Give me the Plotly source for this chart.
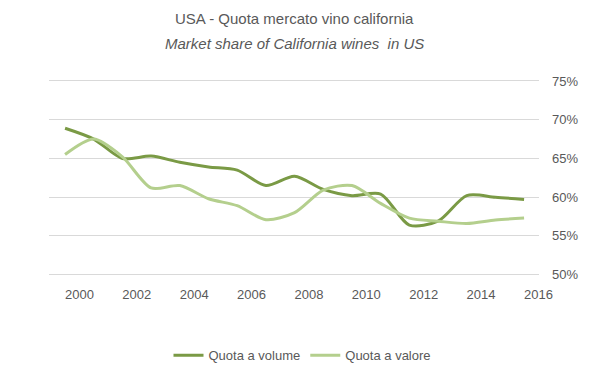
import plotly.graph_objects as go

# Data (mid-year positions, as in the reference)
years = [1999.5, 2000.5, 2001.5, 2002.5, 2003.5, 2004.5, 2005.5, 2006.5, 2007.5,
         2008.5, 2009.5, 2010.5, 2011.5, 2012.5, 2013.5, 2014.5, 2015.5]
quota_volume = [68.9, 67.5, 65.0, 65.3, 64.5, 63.9, 63.5, 61.5, 62.7,
                61.0, 60.2, 60.4, 56.4, 56.9, 60.2, 60.0, 59.7]
quota_valore = [65.5, 67.5, 65.2, 61.2, 61.5, 59.8, 58.9, 57.1, 58.0,
                60.9, 61.5, 59.2, 57.3, 56.9, 56.6, 57.05, 57.3]
x_ticks = [2000, 2002, 2004, 2006, 2008, 2010, 2012, 2014, 2016]
y_ticks = [0.50, 0.55, 0.60, 0.65, 0.70, 0.75]

title_text = "USA - Quota mercato vino california"
subtitle_text = "Market share of California wines  in US"

DARK = "#7A9A45"
LIGHT = "#B4CF8D"
TXT = "#595959"
FONT = "Liberation Sans, Arial, sans-serif"

fig = go.Figure()
fig.add_trace(go.Scatter(
    x=years, y=[v / 100 for v in quota_volume], name="Quota a volume",
    mode="lines", line=dict(color=DARK, width=3, shape="spline", smoothing=0.8)))
fig.add_trace(go.Scatter(
    x=years, y=[v / 100 for v in quota_valore], name="Quota a valore",
    mode="lines", line=dict(color=LIGHT, width=3, shape="spline", smoothing=0.8)))

# plot area: 0.75 -> y=81 px, 0.50 -> y=275 px  (776 px per unit)
fig.update_layout(
    width=599, height=378,
    margin=dict(l=49, r=60, t=79, b=101, autoexpand=False),
    paper_bgcolor="white", plot_bgcolor="white",
    font=dict(family=FONT, size=13, color=TXT),
    showlegend=True,
    legend=dict(orientation="h", xref="container", x=0.505, xanchor="center",
                yref="container", y=0.06, yanchor="middle",
                font=dict(size=13, color=TXT), itemwidth=30, traceorder="normal"),
    annotations=[
        dict(text=title_text, xref="paper", yref="paper", x=0.5, y=(277.3 - 18) / 198.3,
             xanchor="center", yanchor="middle", showarrow=False,
             font=dict(size=15, color=TXT, family=FONT)),
        dict(text="<i>" + subtitle_text + "</i>", xref="paper", yref="paper",
             x=0.5, y=(277.3 - 43) / 198.3, xanchor="center", yanchor="middle",
             showarrow=False, font=dict(size=15, color=TXT, family=FONT)),
    ],
)
fig.update_xaxes(range=[1998.94, 2016.02], tickvals=x_ticks, showgrid=False,
                 zeroline=False, showline=False, ticklabelstandoff=8, automargin=False,
                 tickfont=dict(size=13, color=TXT))
fig.update_yaxes(range=[0.497, 0.7525], tickvals=y_ticks, tickformat=".0%",
                 side="right", showgrid=True, gridcolor="#D9D9D9", gridwidth=1,
                 zeroline=False, showline=False, ticklabelstandoff=12, automargin=False,
                 tickfont=dict(size=13, color=TXT))

fig.write_html("out.html", config={"displayModeBar": False},
               post_script="document.body.style.margin='0px';")
